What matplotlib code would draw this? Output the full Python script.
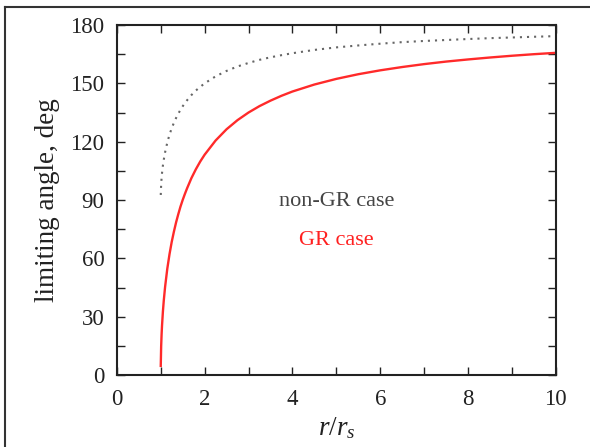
import matplotlib
matplotlib.use('Agg')
import matplotlib.pyplot as plt
from matplotlib.lines import Line2D
from matplotlib.ticker import MultipleLocator

plt.rcParams['font.family'] = ['Liberation Serif', 'DejaVu Serif']
plt.rcParams['mathtext.fontset'] = 'custom'
plt.rcParams['mathtext.it'] = 'Liberation Serif:italic'
plt.rcParams['mathtext.rm'] = 'Liberation Serif'

# r / r_s values
r_vals = [1.001, 1.01, 1.02, 1.03, 1.05, 1.07, 1.1, 1.15, 1.2, 1.25, 1.3, 1.35, 1.4, 1.45,
          1.5, 1.55, 1.6, 1.7, 1.8, 1.9, 2.0, 2.25, 2.5, 2.75, 3.0, 3.25, 3.5, 3.75,
          4.0, 4.5, 5.0, 5.5, 6.0, 6.5, 7.0, 7.5, 8.0, 8.5, 9.0, 9.5, 10.0]
# limiting angle, deg - GR case (red solid)
gr_angle = [4.7, 14.8, 20.9, 25.5, 32.7, 38.4, 45.4, 54.7, 62.1, 68.4, 73.7, 78.5, 82.7, 86.6,
            90.0, 93.1, 96.0, 101.3, 105.8, 109.8, 113.3, 120.6, 126.4, 131.1, 135.0, 138.3,
            141.1, 143.6, 145.8, 149.4, 152.3, 154.7, 156.7, 158.4, 159.9, 161.2, 162.3,
            163.3, 164.2, 165.0, 165.7]
# limiting angle, deg - non-GR case (dotted)
nongr_angle = [92.6, 98.1, 101.4, 103.9, 107.8, 110.8, 114.6, 119.6, 123.6, 126.9, 129.7,
               132.2, 134.4, 136.4, 138.2, 139.8, 141.3, 144.0, 146.3, 148.2, 150.0, 153.6,
               156.4, 158.7, 160.5, 162.1, 163.4, 164.5, 165.5, 167.2, 168.5, 169.5, 170.4,
               171.2, 171.8, 172.3, 172.8, 173.25, 173.6, 173.96, 174.3]

fig = plt.figure(figsize=(5.9, 4.47), dpi=100)
ax = fig.add_axes([0.198, 0.161, 0.744, 0.783])

ax.plot(r_vals, nongr_angle, color='#666666', lw=1.5, linestyle=(0, (1, 2.4)))
ax.plot(r_vals, gr_angle, color='#ff2a2a', lw=1.7)

ax.set_xlim(0, 10)
ax.set_ylim(0, 180)
ax.xaxis.set_major_locator(MultipleLocator(2))
ax.xaxis.set_minor_locator(MultipleLocator(1))
ax.yaxis.set_major_locator(MultipleLocator(30))
ax.yaxis.set_minor_locator(MultipleLocator(15))
ax.tick_params(which='both', direction='in', top=True, right=True,
               length=6, width=1.0, color='#222222')
ax.tick_params(axis='x', which='major', labelsize=16.5, pad=10, labelcolor='#222222')
ax.tick_params(axis='y', which='major', labelsize=16.5, pad=9, labelcolor='#222222')
for sp in ax.spines.values():
    sp.set_linewidth(1.5)
    sp.set_color('#222222')

ax.set_ylabel('limiting angle, deg', fontsize=19.5, color='#222222', labelpad=7)
ax.set_xlabel(r'$r/r_s$', fontsize=19.5, color='#222222', labelpad=4)

ax.text(5.0, 89, 'non-GR case', fontsize=16, color='#444444', ha='center', va='center')
ax.text(5.0, 69, 'GR case', fontsize=16, color='#ff2020', ha='center', va='center')

# outer frame (left and top edges only)
fig.add_artist(Line2D([5 / 590, 5 / 590], [0, 1 - 7 / 447], transform=fig.transFigure,
                      color='#333333', lw=1.5))
fig.add_artist(Line2D([5 / 590, 1], [1 - 7 / 447, 1 - 7 / 447], transform=fig.transFigure,
                      color='#333333', lw=1.5))

fig.savefig('out.png', dpi=100)
